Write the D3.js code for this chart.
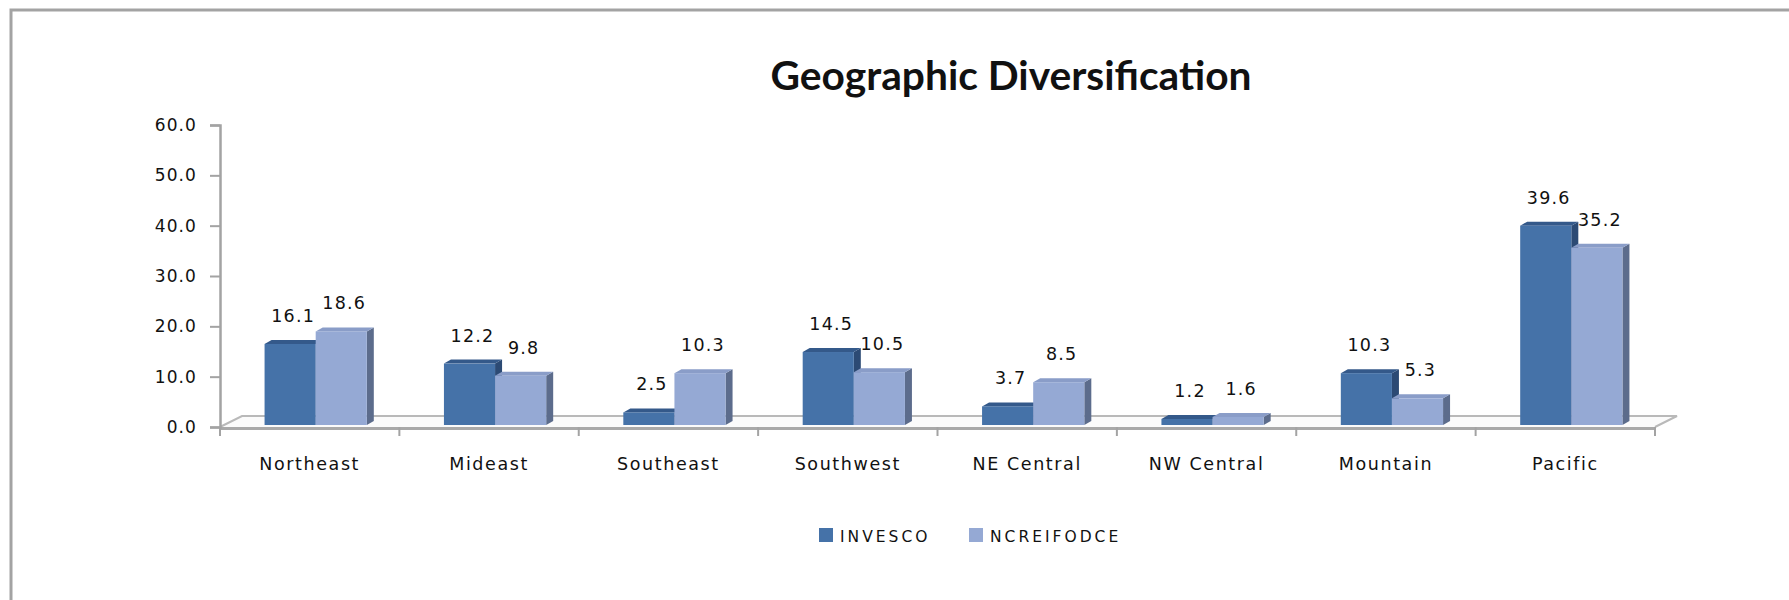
<!DOCTYPE html>
<html>
<head>
<meta charset="utf-8">
<script src="https://cdn.jsdelivr.net/npm/d3@7"></script>
<style>
  body { margin: 0; background: #fff; }
  text { font-family: "DejaVu Sans", Verdana, sans-serif; fill: #111; }
</style>
</head>
<body>
<svg id="chart" width="1789" height="600"></svg>
<script>
// Regional allocation (%) by series
const categories = ["Northeast", "Mideast", "Southeast", "Southwest", "NE Central", "NW Central", "Mountain", "Pacific"];
const invesco = [16.1, 12.2, 2.5, 14.5, 3.7, 1.2, 10.3, 39.6];
const ncreifOdce = [18.6, 9.8, 10.3, 10.5, 8.5, 1.6, 5.3, 35.2];
const seriesNames = ["INVESCO", "NCREIFODCE"];
const yTickValues = [0, 10, 20, 30, 40, 50, 60];
const titleText = "Geographic Diversification";

const seriesValues = [invesco, ncreifOdce];
const faceColors = [
  { front: "#4572a8", top: "#34598a", side: "#2c4a74" },
  { front: "#95a9d4", top: "#8a9dc8", side: "#5c6c8c" }
];

const svg = d3.select("#chart");

// outer frame (open at right and bottom edges of the canvas)
svg.append("path")
  .attr("d", "M11,610 L11,10 L1800,10")
  .attr("fill", "none").attr("stroke", "#a3a3a3").attr("stroke-width", 3);

// plot geometry
const plotLeft = 220, plotRight = 1655;
const y = d3.scaleLinear().domain([0, 60]).range([427, 125]);
const x = d3.scaleBand().domain(categories).range([plotLeft, plotRight])
  .paddingInner(0.43).paddingOuter(0.215);
const xSeries = d3.scaleBand().domain(seriesNames).range([0, x.bandwidth()]);

const floorDepth = { dx: 22, dy: -11 };
const barShift = { dx: 6, dy: -2 };
const barDepth = { dx: 7, dy: -4 };

// floor slab
const f0 = y(0);
const floor = svg.append("g");
floor.append("path")
  .attr("d", `M${plotLeft},${f0} L${plotLeft + floorDepth.dx},${f0 + floorDepth.dy} L${plotRight + floorDepth.dx},${f0 + floorDepth.dy} L${plotRight},${f0}`)
  .attr("fill", "#fbfbfb").attr("stroke", "#b9b9b9").attr("stroke-width", 2);
floor.append("line")
  .attr("x1", plotLeft).attr("x2", plotRight)
  .attr("y1", f0 + 1.5).attr("y2", f0 + 1.5)
  .attr("stroke", "#a9a9a9").attr("stroke-width", 3);

// category ticks along the floor front edge
const step = x.step();
const boundaryTicks = d3.range(categories.length + 1).map(i => plotLeft + i * step);
svg.append("g").selectAll("line").data(boundaryTicks).join("line")
  .attr("x1", d => d).attr("x2", d => d)
  .attr("y1", f0).attr("y2", f0 + 9)
  .attr("stroke", "#a3a3a3").attr("stroke-width", 2);

// value axis
const yAxis = d3.axisLeft(y).tickValues(yTickValues).tickFormat(d3.format(".1f"))
  .tickSize(10).tickPadding(13);
const gY = svg.append("g").attr("transform", `translate(${plotLeft},0)`).call(yAxis);
gY.select(".domain").attr("stroke", "#a3a3a3").attr("stroke-width", 2.5);
gY.selectAll(".tick line").attr("stroke", "#a3a3a3").attr("stroke-width", 2);
gY.selectAll(".tick text")
  .style("font-family", "'DejaVu Sans', sans-serif")
  .style("font-size", "17px").style("letter-spacing", "1.1px").attr("fill", "#111");

// category labels
svg.append("g").selectAll("text").data(categories).join("text")
  .attr("x", d => x(d) + x.bandwidth() / 2)
  .attr("y", 470)
  .attr("text-anchor", "middle")
  .style("font-size", "17.5px").style("letter-spacing", "1.6px")
  .text(d => d);

// 3D columns
const bars = [];
categories.forEach((c, i) => {
  seriesNames.forEach((s, k) => {
    bars.push({ cat: c, series: s, k, value: seriesValues[k][i] });
  });
});

const gBars = svg.append("g");
bars.forEach(b => {
  const bx = x(b.cat) + xSeries(b.series) + barShift.dx;
  const w = xSeries.bandwidth();
  const yt = y(b.value) + barShift.dy;
  const yb = y(0) + barShift.dy;
  const col = faceColors[b.k];
  const g = gBars.append("g");
  g.append("polygon")
    .attr("points", [[bx + w, yt], [bx + w + barDepth.dx, yt + barDepth.dy], [bx + w + barDepth.dx, yb + barDepth.dy], [bx + w, yb]].join(" "))
    .attr("fill", col.side);
  g.append("polygon")
    .attr("points", [[bx, yt], [bx + barDepth.dx, yt + barDepth.dy], [bx + w + barDepth.dx, yt + barDepth.dy], [bx + w, yt]].join(" "))
    .attr("fill", col.top);
  g.append("rect")
    .attr("x", bx).attr("y", yt).attr("width", w).attr("height", yb - yt)
    .attr("fill", col.front);
  b.labelX = bx + w / 2 + 3;
  b.labelY = yt - 22;
});

// value labels
svg.append("g").selectAll("text").data(bars).join("text")
  .attr("x", d => d.labelX).attr("y", d => d.labelY)
  .attr("text-anchor", "middle")
  .style("font-size", "17.5px").style("letter-spacing", "1.2px")
  .text(d => d3.format(".1f")(d.value));

// title, fitted to its measured width
const title = svg.append("text")
  .attr("x", 1011).attr("y", 90)
  .attr("text-anchor", "middle")
  .style("font-family", "Lato, 'Open Sans', sans-serif")
  .style("font-weight", "bold").style("font-size", "36px")
  .attr("fill", "#000")
  .text(titleText);
const tw = title.node().getComputedTextLength();
title.style("font-size", (36 * 481 / tw).toFixed(2) + "px");

// legend
const legendItems = [
  { name: seriesNames[0], sx: 819, tx: 840, color: faceColors[0].front },
  { name: seriesNames[1], sx: 969, tx: 990, color: faceColors[1].front }
];
const lg = svg.append("g");
legendItems.forEach(it => {
  lg.append("rect").attr("x", it.sx).attr("y", 528).attr("width", 14).attr("height", 14).attr("fill", it.color);
  lg.append("text").attr("x", it.tx).attr("y", 542)
    .style("font-size", "15.5px").style("letter-spacing", "3px")
    .text(it.name);
});
</script>
</body>
</html>
